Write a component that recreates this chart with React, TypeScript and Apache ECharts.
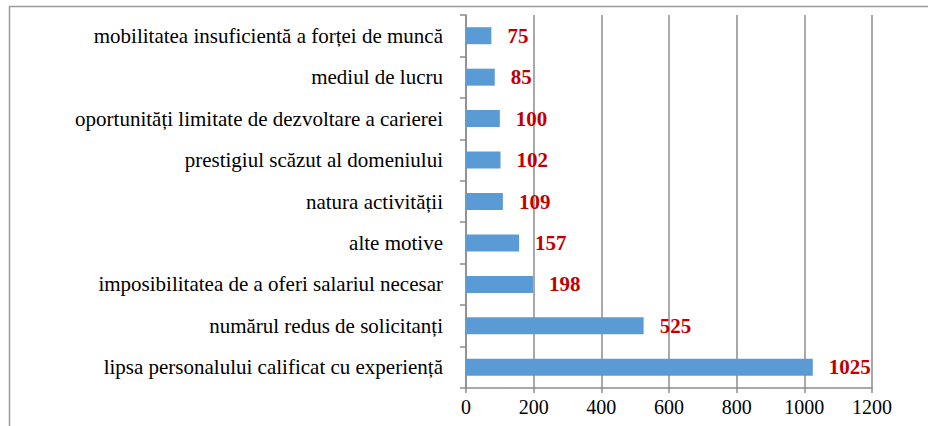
import React, { useEffect, useRef } from "react";
import * as echarts from "echarts";

const categories = [
  "mobilitatea insuficientă a forței de muncă",
  "mediul de lucru",
  "oportunități limitate de dezvoltare a carierei",
  "prestigiul scăzut al domeniului",
  "natura activității",
  "alte motive",
  "imposibilitatea de a oferi salariul necesar",
  "numărul redus de solicitanți",
  "lipsa personalului calificat cu experiență",
];
const values = [75, 85, 100, 102, 109, 157, 198, 525, 1025];
const axisMin = 0;
const axisMax = 1200;
const axisInterval = 200;

const FONT = "Liberation Serif";

export default function App() {
  const ref = useRef<HTMLDivElement>(null);
  useEffect(() => {
    document.body.style.margin = "0";
    const chart = echarts.init(ref.current!, null, { renderer: "svg" });
    chart.setOption({
      animation: false,
      grid: { left: 466, right: 56, top: 15, bottom: 38 },
      xAxis: {
        type: "value",
        min: axisMin,
        max: axisMax,
        interval: axisInterval,
        axisLine: { show: true, lineStyle: { color: "#8c8c8c", width: 1.5 } },
        axisTick: { show: true, length: 5, lineStyle: { color: "#8c8c8c", width: 1.5 } },
        splitLine: { show: true, lineStyle: { color: "#8c8c8c", width: 1.5 } },
        axisLabel: {
          fontFamily: FONT,
          fontSize: 20,
          color: "#000000",
          margin: 9,
          formatter: (v: number) => String(v),
        },
      },
      yAxis: {
        type: "category",
        data: categories,
        inverse: true,
        axisLine: { show: true, lineStyle: { color: "#8c8c8c", width: 1.5 } },
        axisTick: { show: true, length: 6, lineStyle: { color: "#8c8c8c", width: 1.5 } },
        axisLabel: { fontFamily: FONT, fontSize: 21, color: "#000000", margin: 23 },
      },
      series: [
        {
          type: "bar",
          data: values,
          barWidth: "41%",
          itemStyle: { color: "#5b9bd5" },
          label: {
            show: true,
            position: "right",
            distance: 16,
            color: "#c00000",
            fontFamily: FONT,
            fontWeight: "bold",
            fontSize: 21,
          },
        },
      ],
      graphic: [
        {
          type: "rect",
          shape: { x: 9.5, y: 6.5, width: 1000, height: 1000 },
          style: { fill: "none", stroke: "#9a9a9a", lineWidth: 1.5 },
          silent: true,
        },
      ],
    });
    return () => chart.dispose();
  }, []);
  return <div ref={ref} style={{ width: 928, height: 426 }} />;
}
